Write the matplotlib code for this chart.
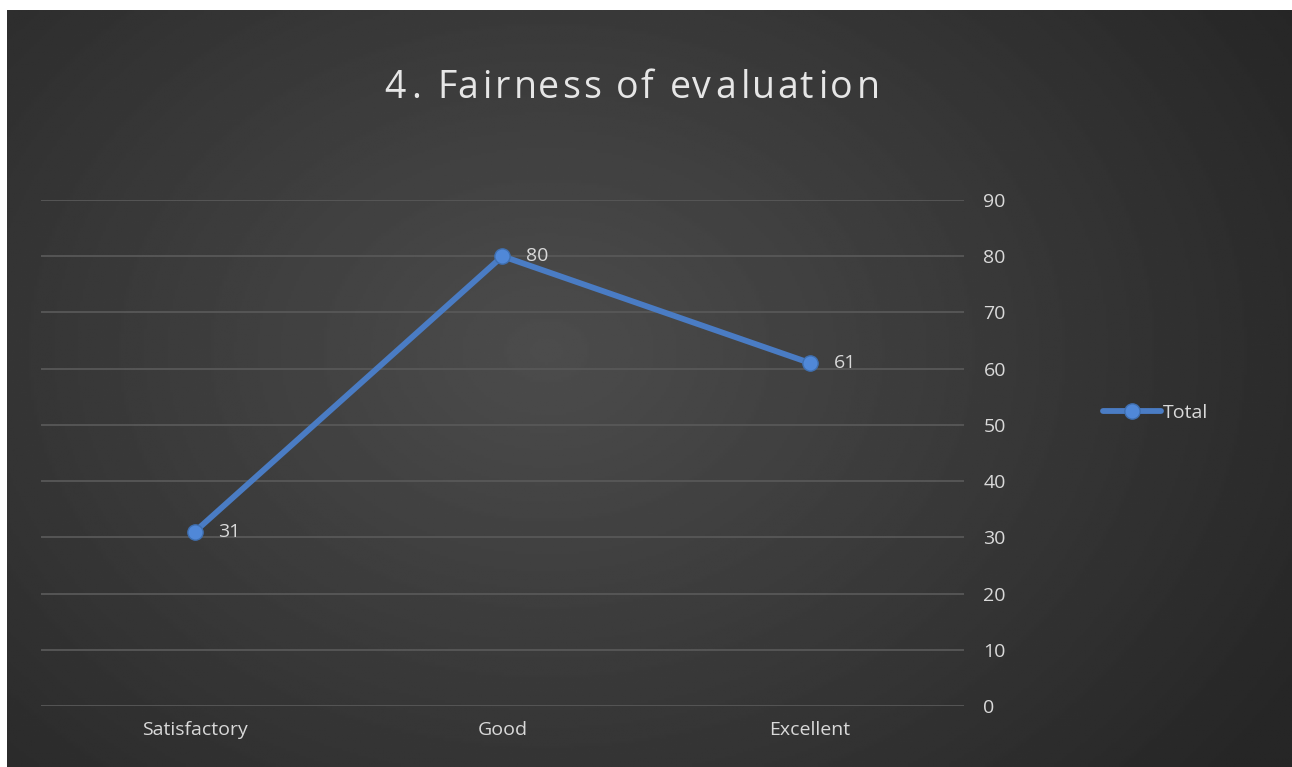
import matplotlib
matplotlib.use("Agg")
import matplotlib.pyplot as plt
import numpy as np
from matplotlib import font_manager
from matplotlib.ft2font import FT2Font

plt.rcParams['font.family'] = ['Open Sans', 'DejaVu Sans']

categories = ["Satisfactory", "Good", "Excellent"]
totals = [31, 80, 61]
y_ticks = list(range(0, 100, 10))
series_name = "Total"
title = "4. Fairness of evaluation"

W, H = 1292, 767
fig = plt.figure(figsize=(W / 100, H / 100), dpi=100)
fig.patch.set_facecolor("white")

# dark radial gradient background
bg = fig.add_axes([7 / W, 0, 1 - 7 / W, 1 - 10 / H])
yy, xx = np.mgrid[0:1:300j, 0:1:500j]
r = np.sqrt(((xx - 0.42) * 1.3) ** 2 + (yy - 0.45) ** 2)
shade = np.clip(0.30 - 0.17 * r, 0.15, 0.30)
bg.imshow(shade, cmap="gray", vmin=0, vmax=1, aspect="auto", extent=[0, 1, 0, 1])
bg.set_axis_off()

# plot area
left, right = 41 / W, 964 / W
bottom, top = 1 - 706 / H, 1 - 200 / H
ax = fig.add_axes([left, bottom, right - left, top - bottom])
ax.patch.set_alpha(0)
x = np.arange(len(categories))
ax.plot(x, totals, color="#4a7cc4", lw=4.2, marker="o", ms=11,
        markerfacecolor="#5088d8", markeredgecolor="#3f6fb0", label=series_name,
        solid_capstyle="round", zorder=3)
for xi, v in zip(x, totals):
    ax.annotate(str(v), (xi, v), xytext=(17, 0), textcoords="offset points",
                va="center", ha="left", color="#d9d9d9", fontsize=14)

ax.set_xlim(-0.5, len(categories) - 0.5)
ax.set_ylim(0, 90)
ax.set_yticks(y_ticks)
ax.yaxis.tick_right()
ax.set_xticks(x)
ax.set_xticklabels(categories)
ax.tick_params(length=0, colors="#d9d9d9", labelsize=14)
ax.tick_params(axis="y", pad=14)
ax.tick_params(axis="x", pad=11)
ax.grid(axis="y", color="#585858", lw=1.3)
for s in ax.spines.values():
    s.set_visible(False)

# title with extra letter spacing, laid out glyph by glyph on one baseline
title_fs = 27
spacing = 2.9
font = FT2Font(font_manager.findfont(font_manager.FontProperties(family="Open Sans")))
font.set_size(title_fs, 100)
glyphs = []
for ch in title:
    g = font.load_char(ord(ch))
    glyphs.append((ch, g.linearHoriAdvance / 65536, g.horiBearingX / 64))
total_w = sum(a for _, a, _ in glyphs) + spacing * (len(title) - 1)
pen = 630 - total_w / 2
for ch, adv, lsb in glyphs:
    if ch != " ":
        fig.text((pen + lsb) / W, 1 - 98 / H, ch, ha="left", va="baseline",
                 color="#e6e6e6", fontsize=title_fs)
    pen += adv + spacing

leg = fig.legend(loc="center left", bbox_to_anchor=(1085 / W, 1 - 413 / H),
                 frameon=False, fontsize=14, handlelength=3.0, handletextpad=0.1,
                 labelcolor="#d9d9d9")

fig.savefig("out.png", dpi=100)
